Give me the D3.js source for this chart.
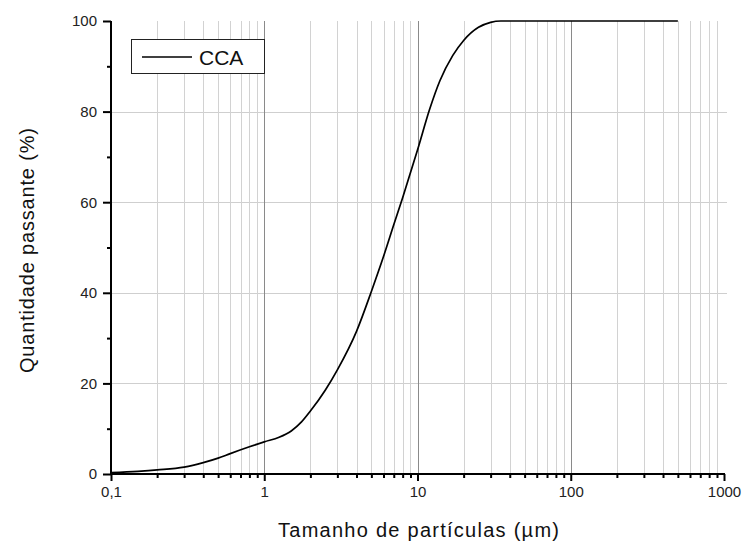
<!DOCTYPE html>
<html>
<head>
<meta charset="utf-8">
<script src="https://cdn.jsdelivr.net/npm/d3@7"></script>
<style>
  body { margin: 0; background: #fff; }
  svg { display: block; font-family: "Liberation Sans", Arial, sans-serif; }
</style>
</head>
<body>
<svg id="chart" width="745" height="545"></svg>
<script>
// particle size (um) and cumulative passing (%)
var sizes   = [0.1, 0.15, 0.2, 0.3, 0.4, 0.5, 0.6, 0.8, 1, 1.25, 1.5, 1.75, 2, 2.5, 3, 4, 5, 6, 7, 8, 10, 12, 14, 17, 20, 25, 30, 35, 50, 100, 200, 500];
var passing = [0.3, 0.6, 0.9, 1.5, 2.5, 3.5, 4.5, 6.0, 7.1, 8.1, 9.5, 11.5, 13.9, 18.5, 23, 31.5, 40.3, 48.0, 55.0, 61.0, 71.5, 80.5, 86.8, 92.4, 95.7, 98.6, 99.7, 100, 100, 100, 100, 100];
var xTicks = [0.1, 1, 10, 100, 1000];
var xTickLabels = ['0,1', '1', '10', '100', '1000'];
var yTicks = [0, 20, 40, 60, 80, 100];
var seriesName = 'CCA';

var svg = d3.select('#chart');
var pLeft = 111, pRight = 724, pTop = 21, pBottom = 474;

var x = d3.scaleLog().domain([0.1, 1000]).range([pLeft, pRight]);
var y = d3.scaleLinear().domain([0, 100]).range([pBottom, pTop]);

// minor values per decade
var minors = [];
[0.1, 1, 10, 100].forEach(function(d) {
    for (var k = 2; k <= 9; k++) minors.push(d * k);
});

var grid = svg.append('g');
grid.selectAll('.hgrid')
    .data([20, 40, 60, 80])
    .enter().append('line')
    .attr('x1', pLeft).attr('x2', pRight + 3)
    .attr('y1', function(d) { return Math.round(y(d)) + 0.5; })
    .attr('y2', function(d) { return Math.round(y(d)) + 0.5; })
    .style('stroke', '#cfcfcf').style('stroke-width', 1);

grid.selectAll('.vminor')
    .data(minors)
    .enter().append('line')
    .attr('x1', function(d) { return Math.round(x(d)) + 0.5; })
    .attr('x2', function(d) { return Math.round(x(d)) + 0.5; })
    .attr('y1', pTop).attr('y2', pBottom)
    .style('stroke', '#d2d2d2').style('stroke-width', 1);

grid.selectAll('.vmajor')
    .data([1, 10, 100])
    .enter().append('line')
    .attr('x1', function(d) { return Math.round(x(d)) + 0.5; })
    .attr('x2', function(d) { return Math.round(x(d)) + 0.5; })
    .attr('y1', pTop).attr('y2', pBottom)
    .style('stroke', '#8a8a8a').style('stroke-width', 1);

// curve
var line = d3.line()
    .x(function(d, i) { return x(sizes[i]); })
    .y(function(d) { return y(d); })
    .curve(d3.curveMonotoneX);

svg.append('path')
    .datum(passing)
    .attr('d', line)
    .style('fill', 'none')
    .style('stroke', '#000')
    .style('stroke-width', 1.7);

// x axis
var xAxis = svg.append('g').attr('transform', 'translate(0,' + pBottom + ')');
xAxis.call(d3.axisBottom(x).tickValues(minors).tickSize(4).tickFormat(''));
xAxis.append('g').call(d3.axisBottom(x).tickValues(xTicks).tickSize(7).tickPadding(5)
    .tickFormat(function(d, i) { return xTickLabels[i]; }));
xAxis.selectAll('.domain').remove();
xAxis.append('line').attr('x1', pLeft - 1).attr('x2', pRight + 1)
    .style('stroke', '#000').style('stroke-width', 2);
xAxis.selectAll('.tick line').style('stroke', '#000').style('stroke-width', 2);
xAxis.selectAll('text').style('font-size', '15px').style('fill', '#222')
    .style('font-family', '"Liberation Sans", Arial, sans-serif');

// y axis
var yAxis = svg.append('g').attr('transform', 'translate(' + pLeft + ',0)');
yAxis.call(d3.axisLeft(y).tickValues([10, 30, 50, 70, 90]).tickSize(4).tickFormat(''));
yAxis.append('g').call(d3.axisLeft(y).tickValues(yTicks).tickSize(8).tickPadding(6));
yAxis.selectAll('.domain').remove();
yAxis.append('line').attr('y1', pTop).attr('y2', pBottom + 1)
    .style('stroke', '#000').style('stroke-width', 2);
yAxis.selectAll('.tick line').style('stroke', '#000').style('stroke-width', 2);
yAxis.selectAll('text').style('font-size', '15px').style('fill', '#222')
    .style('font-family', '"Liberation Sans", Arial, sans-serif');

// axis titles
svg.append('text')
    .attr('x', 278).attr('y', 537)
    .attr('textLength', 281).attr('lengthAdjust', 'spacing')
    .style('font-size', '20px').style('fill', '#111')
    .text('Tamanho de partículas (µm)');

svg.append('text')
    .attr('transform', 'translate(34,373) rotate(-90)')
    .attr('textLength', 245).attr('lengthAdjust', 'spacing')
    .style('font-size', '20px').style('fill', '#111')
    .text('Quantidade passante (%)');

// legend
var legend = svg.append('g');
legend.append('rect')
    .attr('x', 131.5).attr('y', 39.5).attr('width', 133).attr('height', 34)
    .style('fill', '#fff').style('stroke', '#222').style('stroke-width', 1);
legend.append('line')
    .attr('x1', 142).attr('x2', 192).attr('y1', 57).attr('y2', 57)
    .style('stroke', '#000').style('stroke-width', 1.7);
legend.append('text')
    .attr('x', 199).attr('y', 64.5)
    .style('font-size', '21px').style('fill', '#111')
    .text(seriesName);
</script>
</body>
</html>
